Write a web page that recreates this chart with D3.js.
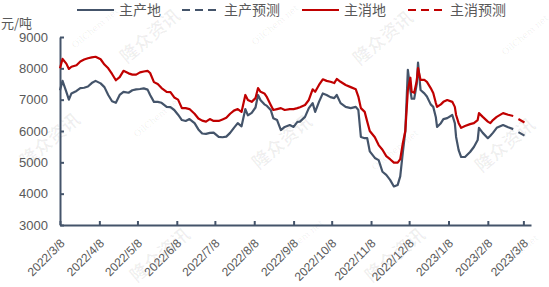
<!DOCTYPE html>
<html>
<head>
<meta charset="utf-8">
<script src="https://cdn.jsdelivr.net/npm/d3@7"></script>
<style>
  body { margin: 0; background: #fff; }
  svg { display: block; font-family: "Noto Sans CJK SC", "Noto Sans", sans-serif; }
</style>
</head>
<body>
<svg id="chart" width="549" height="287"></svg>
<script>
var dates = ["2022-03-08","2022-03-10","2022-03-13","2022-03-15","2022-03-17","2022-03-21","2022-03-24","2022-03-27","2022-03-30","2022-04-02",
  "2022-04-05","2022-04-09","2022-04-12","2022-04-15","2022-04-18","2022-04-21","2022-04-24","2022-04-27","2022-05-01","2022-05-04",
  "2022-05-07","2022-05-10","2022-05-13","2022-05-16","2022-05-18","2022-05-21","2022-05-24","2022-05-27","2022-05-31","2022-06-03",
  "2022-06-06","2022-06-09","2022-06-12","2022-06-15","2022-06-18","2022-06-22","2022-06-25","2022-06-28","2022-07-01","2022-07-04",
  "2022-07-07","2022-07-11","2022-07-14","2022-07-17","2022-07-20","2022-07-23","2022-07-26","2022-07-29","2022-08-01","2022-08-03",
  "2022-08-06","2022-08-09","2022-08-11","2022-08-13","2022-08-16","2022-08-18","2022-08-21","2022-08-23","2022-08-26","2022-08-29",
  "2022-09-01","2022-09-05","2022-09-08","2022-09-11","2022-09-13","2022-09-17","2022-09-20","2022-09-23","2022-09-25","2022-09-28",
  "2022-10-01","2022-10-04","2022-10-07","2022-10-10","2022-10-12","2022-10-15","2022-10-19","2022-10-23","2022-10-27","2022-10-29",
  "2022-10-31","2022-11-03","2022-11-05","2022-11-07","2022-11-11","2022-11-14","2022-11-17","2022-11-20","2022-11-23","2022-11-26",
  "2022-11-29","2022-12-01","2022-12-03","2022-12-05","2022-12-07","2022-12-09","2022-12-10","2022-12-12","2022-12-14","2022-12-15",
  "2022-12-17","2022-12-20","2022-12-22","2022-12-25","2022-12-27","2022-12-29","2022-12-30","2023-01-02","2023-01-04","2023-01-07",
  "2023-01-11","2023-01-13","2023-01-14","2023-01-16","2023-01-18","2023-01-21","2023-01-25","2023-01-28","2023-01-31","2023-02-01",
  "2023-02-04","2023-02-08","2023-02-10","2023-02-12","2023-02-15","2023-02-20","2023-02-24","2023-02-28"];

// 主产地 price, 元/吨
var producing = [7300,7600,7250,7000,7200,7280,7370,7380,7420,7530,
  7600,7520,7400,7150,6950,6900,7150,7250,7220,7300,
  7330,7340,7360,7320,7150,6930,6930,6900,6770,6760,
  6670,6520,6350,6320,6380,6250,6050,5920,5910,5940,
  5950,5810,5800,5820,5940,6100,6250,6150,6700,6500,
  6580,6750,7150,6980,6850,6800,6670,6410,6350,6030,
  6130,6190,6130,6290,6300,6450,6730,6890,6610,6930,
  7200,7150,7080,7050,7150,6890,6770,6730,6770,6670,
  5810,5770,5770,5350,5140,5070,4700,4600,4440,4230,
  4280,4550,5300,6000,7950,7300,7030,7030,7500,8180,
  7310,7200,7100,6850,6770,6450,6130,6250,6380,6410,
  6510,6250,5810,5390,5170,5170,5330,5490,5710,6100,
  5940,5770,5850,5940,6100,6190,6120,6060];

// 主消地 price, 元/吨
var consuming = [8000,8300,8150,7980,8050,8100,8220,8280,8320,8350,
  8370,8290,8120,8000,7820,7620,7720,7920,7840,7800,
  7800,7870,7900,7920,7850,7560,7500,7370,7250,7240,
  7070,7000,6730,6730,6700,6550,6400,6330,6300,6380,
  6320,6320,6370,6420,6550,6650,6700,6610,7150,6990,
  6930,7050,7370,7250,7200,7080,6830,6670,6700,6730,
  6670,6700,6700,6730,6760,6830,6990,7330,7250,7470,
  7650,7600,7570,7530,7660,7570,7470,7400,7330,7100,
  6730,6610,6300,6000,5800,5550,5400,5200,5100,4990,
  4990,5100,5600,6000,7300,7700,7250,7220,7600,8010,
  7630,7630,7570,7370,7210,6900,6770,6850,6930,6990,
  6930,6770,6510,6250,6100,6160,6220,6250,6350,6570,
  6450,6300,6250,6350,6450,6570,6520,6480];

// forecasts start from the last actual point
var forecastDates = ["2023-02-28", "2023-03-11"];
var producingForecast = [6060, 5800];
var consumingForecast = [6480, 6220];

var xTickLabels = ["2022/3/8","2022/4/8","2022/5/8","2022/6/8","2022/7/8","2022/8/8","2022/9/8",
  "2022/10/8","2022/11/8","2022/12/8","2023/1/8","2023/2/8","2023/3/8"];
var yTicks = [3000, 4000, 5000, 6000, 7000, 8000, 9000];

var legendItems = [
  { name: "主产地", color: "#44546A", dashed: false },
  { name: "主产预测", color: "#44546A", dashed: true },
  { name: "主消地", color: "#C00000", dashed: false },
  { name: "主消预测", color: "#C00000", dashed: true }
];

var parseIso = d3.timeParse("%Y-%m-%d"),
    parseLabel = d3.timeParse("%Y/%m/%d");

var svg = d3.select("#chart"),
    width = +svg.attr("width"),
    height = +svg.attr("height");

var blue = "#44546A", red = "#C00000", textGray = "#595959";

var x = d3.scaleTime()
    .domain([parseIso("2022-03-08"), parseIso("2023-03-14")])
    .range([60, 531]);
var y = d3.scaleLinear()
    .domain([3000, 9000])
    .range([225, 37]);

// faint watermark, as in the source image
var wm = svg.append("g").attr("class", "watermark");
[[150, 36], [383, 38], [50, 140], [282, 142], [505, 145], [160, 255], [395, 255]].forEach(function (p) {
  wm.append("text")
    .attr("transform", "translate(" + p[0] + "," + p[1] + ") rotate(-40)")
    .attr("text-anchor", "middle").attr("dy", ".35em")
    .style("font-size", "18px").style("font-weight", "bold")
    .style("fill", "#000").style("fill-opacity", 0.06)
    .text("隆众资讯");
});
[[95, 28], [275, 25], [525, 35], [157, 117], [395, 150], [300, 240], [515, 255]].forEach(function (p) {
  wm.append("text")
    .attr("transform", "translate(" + p[0] + "," + p[1] + ") rotate(-40)")
    .attr("text-anchor", "middle").attr("dy", ".35em")
    .style("font-family", "'DejaVu Serif', serif").style("font-size", "9px")
    .style("fill", "#000").style("fill-opacity", 0.07)
    .text("OilChem.net");
});

// axes
var xAxis = d3.axisBottom(x)
    .tickValues(xTickLabels.map(parseLabel))
    .tickSizeInner(-4).tickSizeOuter(0)
    .tickFormat(function (d, i) { return xTickLabels[i]; });

var gx = svg.append("g")
    .attr("transform", "translate(0," + y(3000) + ")")
    .call(xAxis);
gx.select(".domain").attr("stroke", blue).attr("stroke-width", 2);
gx.selectAll(".tick line").attr("stroke", blue).attr("stroke-width", 2);
gx.selectAll(".tick text")
    .attr("y", 0).attr("dy", 0)
    .attr("transform", "translate(5,19) rotate(-45)")
    .style("text-anchor", "end")
    .style("font-size", "12px")
    .style("fill", textGray);

var yAxis = d3.axisLeft(y)
    .tickValues(yTicks)
    .tickSizeInner(-4).tickSizeOuter(0)
    .tickPadding(12)
    .tickFormat(d3.format("d"));

var gy = svg.append("g")
    .attr("transform", "translate(" + x.range()[0] + ",0)")
    .call(yAxis);
gy.select(".domain").attr("stroke", blue).attr("stroke-width", 2);
gy.selectAll(".tick line").attr("stroke", blue).attr("stroke-width", 2);
gy.selectAll(".tick text")
    .style("font-size", "13px")
    .style("fill", textGray);

svg.append("text")
    .attr("x", 1).attr("y", 28)
    .style("font-size", "13px").style("fill", textGray)
    .text("元/吨");

// series
var line = d3.line()
    .x(function (d) { return x(d.date); })
    .y(function (d) { return y(d.value); });

function zipSeries(ds, vs) {
  return ds.map(function (d, i) { return { date: parseIso(d), value: vs[i] }; });
}

svg.append("path")
    .datum(zipSeries(forecastDates, producingForecast))
    .attr("d", line).attr("fill", "none")
    .attr("stroke", blue).attr("stroke-width", 2.2)
    .attr("stroke-dasharray", "7 6").attr("stroke-dashoffset", 7);
svg.append("path")
    .datum(zipSeries(forecastDates, consumingForecast))
    .attr("d", line).attr("fill", "none")
    .attr("stroke", red).attr("stroke-width", 2.2)
    .attr("stroke-dasharray", "7 6").attr("stroke-dashoffset", 7);

svg.append("path")
    .datum(zipSeries(dates, producing))
    .attr("d", line).attr("fill", "none")
    .attr("stroke", blue).attr("stroke-width", 2.2)
    .attr("stroke-linejoin", "round");
svg.append("path")
    .datum(zipSeries(dates, consuming))
    .attr("d", line).attr("fill", "none")
    .attr("stroke", red).attr("stroke-width", 2.2)
    .attr("stroke-linejoin", "round");

// legend
var legendX = [77, 182, 302, 408];
var legend = svg.append("g").attr("class", "legend");
legendItems.forEach(function (item, i) {
  var g = legend.append("g").attr("transform", "translate(" + legendX[i] + ",10)");
  g.append("line")
    .attr("x1", 0).attr("x2", 37).attr("y1", 0).attr("y2", 0)
    .attr("stroke", item.color).attr("stroke-width", 2.2)
    .attr("stroke-dasharray", item.dashed ? "8 5" : null);
  g.append("text")
    .attr("x", 42).attr("dy", ".35em")
    .style("font-size", "14px").style("fill", textGray)
    .text(item.name);
});
</script>
</body>
</html>
